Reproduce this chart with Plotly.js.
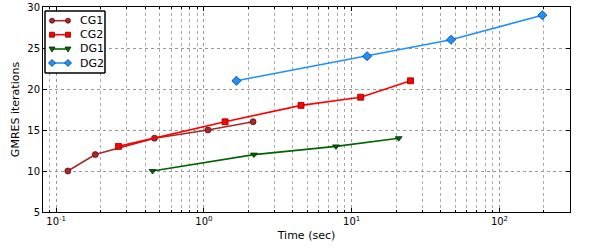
<!DOCTYPE html>
<html>
<head>
<meta charset="utf-8">
<script src="https://cdn.plot.ly/plotly-3.0.1.min.js"></script>
<style>html,body{margin:0;padding:0;background:#fff;}#chart{width:600px;height:250px;}</style>
</head>
<body>
<div id="chart"></div>
<script>
const cg1Time = [0.12, 0.184, 0.463, 1.064, 2.15];
const cg1Iter = [10, 12, 14, 15, 16];
const cg2Time = [0.264, 1.39, 4.54, 11.5, 25.0];
const cg2Iter = [13, 16, 18, 19, 21];
const dg1Time = [0.449, 2.18, 7.83, 20.8];
const dg1Iter = [10, 12, 13, 14];
const dg2Time = [1.66, 12.7, 47.0, 195];
const dg2Iter = [21, 24, 26, 29];
const seriesNames = ['CG1', 'CG2', 'DG1', 'DG2'];
const xTickVals = [0.1, 1, 10, 100];
const xTickText = ['10<sup>-1</sup>', '10<sup>0</sup>', '10<sup>1</sup>', '10<sup>2</sup>'];
const yTickVals = [5, 10, 15, 20, 25, 30];

const styles = [
  {color: '#a52a2a', edge: '#5a1010', symbol: 'circle'},
  {color: '#ff0000', edge: '#8b0000', symbol: 'square'},
  {color: '#006400', edge: '#003000', symbol: 'triangle-down'},
  {color: '#1e90ff', edge: '#0a3a70', symbol: 'diamond'}
];
const xs = [cg1Time, cg2Time, dg1Time, dg2Time];
const ys = [cg1Iter, cg2Iter, dg1Iter, dg2Iter];

const data = seriesNames.map((n, i) => ({
  type: 'scatter', mode: 'lines+markers', name: n, x: xs[i], y: ys[i],
  showlegend: false,
  line: {color: styles[i].color, width: 1.6},
  marker: {color: styles[i].color, symbol: styles[i].symbol,
           size: styles[i].symbol === 'diamond' ? 7 : 6,
           line: {color: styles[i].edge, width: 0.8}}
}));

// Legend (matplotlib-style, drawn in axis-domain coordinates)
const W = 527, H = 205, L = 43, T = 7;
const px = p => (p - L) / W;
const py = p => (T + H - p) / H;
const bx0 = px(45), bx1 = px(105), by0 = py(73), by1 = py(11);
const XR = 'x domain', YR = 'y domain';
const shapes = [
  {type: 'rect', xref: XR, yref: YR, layer: 'above',
   x0: bx0, x1: bx1, y0: by0, y1: by1,
   line: {color: '#000000', width: 1}, fillcolor: '#ffffff'},
  {type: 'line', xref: XR, yref: YR, layer: 'above', x0: bx0, x1: bx1, y0: by0, y1: by0, line: {color: '#000', width: 1}},
  {type: 'line', xref: XR, yref: YR, layer: 'above', x0: bx0, x1: bx1, y0: by1, y1: by1, line: {color: '#000', width: 1}},
  {type: 'line', xref: XR, yref: YR, layer: 'above', x0: bx0, x1: bx0, y0: by0, y1: by1, line: {color: '#000', width: 1}},
  {type: 'line', xref: XR, yref: YR, layer: 'above', x0: bx1, x1: bx1, y0: by0, y1: by1, line: {color: '#000', width: 1}}
];
const annotations = [];
const markerPaths = {
  'square': 'M-2.5,-2.5 L2.5,-2.5 L2.5,2.5 L-2.5,2.5 Z',
  'triangle-down': 'M-3,2 L3,2 L0,-3 Z',
  'diamond': 'M0,3.5 L3.5,0 L0,-3.5 L-3.5,0 Z'
};
const rowY = [20.7, 34.7, 49, 63];
seriesNames.forEach((n, i) => {
  const s = styles[i];
  const yy = py(rowY[i]);
  shapes.push({type: 'line', xref: XR, yref: YR, layer: 'above',
    x0: px(52), x1: px(68), y0: yy, y1: yy, line: {color: s.color, width: 1.6}});
  [52, 68].forEach(xp => {
    if (s.symbol === 'circle') {
      shapes.push({type: 'circle', xref: XR, yref: YR, layer: 'above',
        xsizemode: 'pixel', ysizemode: 'pixel', xanchor: px(xp), yanchor: yy,
        x0: -2.5, x1: 2.5, y0: -2.5, y1: 2.5,
        fillcolor: s.color, line: {color: s.edge, width: 0.8}});
    } else {
      shapes.push({type: 'path', xref: XR, yref: YR, layer: 'above',
        xsizemode: 'pixel', ysizemode: 'pixel', xanchor: px(xp), yanchor: yy,
        path: markerPaths[s.symbol],
        fillcolor: s.color, line: {color: s.edge, width: 0.8}});
    }
  });
  annotations.push({xref: 'paper', yref: 'paper', x: px(78), y: yy,
    xanchor: 'left', yanchor: 'middle', showarrow: false, text: n,
    font: {size: 11, color: '#000'}});
});

const layout = {
  width: 600, height: 250,
  margin: {l: 43, r: 30, t: 7, b: 38},
  paper_bgcolor: '#ffffff', plot_bgcolor: '#ffffff',
  font: {family: 'DejaVu Sans', size: 10, color: '#000'},
  showlegend: false,
  shapes: shapes,
  annotations: annotations,
  xaxis: {
    type: 'log', range: [Math.log10(0.0815), Math.log10(300)],
    tickvals: xTickVals, ticktext: xTickText,
    ticks: 'inside', ticklen: 4, tickcolor: '#000',
    tickfont: {size: 10},
    showline: true, linecolor: '#000', linewidth: 1, mirror: 'ticks',
    showgrid: true, gridcolor: '#999', griddash: 'dot', gridwidth: 1,
    zeroline: false,
    minor: {dtick: 'D1', ticks: 'inside', ticklen: 2, tickcolor: '#000',
            showgrid: true, gridcolor: '#aaa', griddash: 'dot', gridwidth: 1},
    title: {text: 'Time (sec)', font: {size: 11}, standoff: 5}
  },
  yaxis: {
    range: [5, 30], tickvals: yTickVals,
    ticks: 'inside', ticklen: 4, tickcolor: '#000',
    tickfont: {size: 10},
    showline: true, linecolor: '#000', linewidth: 1, mirror: 'ticks',
    showgrid: true, gridcolor: '#999', griddash: 'dot', gridwidth: 1,
    zeroline: false,
    title: {text: 'GMRES iterations', font: {size: 11}, standoff: 5}
  }
};

Plotly.newPlot('chart', data, layout, {displayModeBar: false, staticPlot: true});
</script>
</body>
</html>
